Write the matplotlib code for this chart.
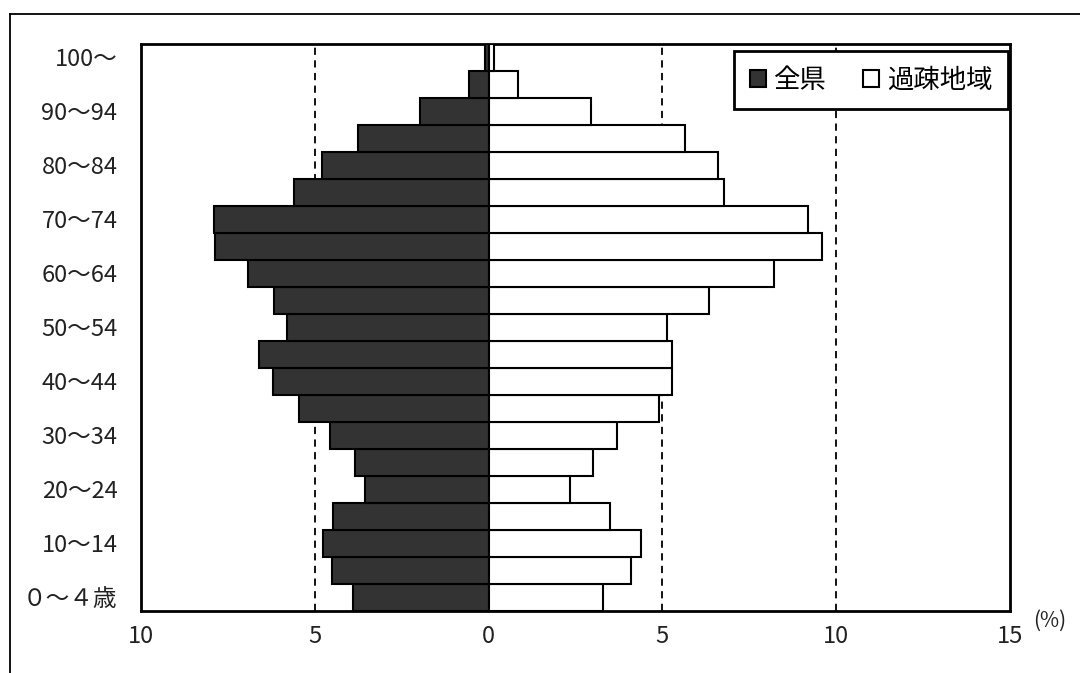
import numpy as np
import matplotlib.pyplot as plt
from matplotlib.patches import Patch
from matplotlib.lines import Line2D

plt.rcParams['font.family'] = ['Noto Sans CJK JP', 'DejaVu Sans']

# age groups, bottom to top
ages = ["０～４歳", "5～9", "10～14", "15～19", "20～24", "25～29", "30～34",
        "35～39", "40～44", "45～49", "50～54", "55～59", "60～64", "65～69",
        "70～74", "75～79", "80～84", "85～89", "90～94", "95～99", "100～"]

# share of population (%)
zenken = [3.9, 4.5, 4.76, 4.47, 3.56, 3.84, 4.56, 5.46, 6.2, 6.6, 5.8,
          6.17, 6.93, 7.86, 7.9, 5.6, 4.8, 3.75, 1.96, 0.56, 0.1]
kaso = [3.3, 4.09, 4.39, 3.5, 2.35, 3.0, 3.68, 4.91, 5.28, 5.28, 5.13,
        6.35, 8.22, 9.6, 9.19, 6.78, 6.59, 5.65, 2.95, 0.86, 0.15]

xticks = [-10, -5, 0, 5, 10, 15]
xticklabels = ["10", "5", "0", "5", "10", "15"]

fig = plt.figure(figsize=(10.8, 6.73), dpi=100)
ax = fig.add_axes([141 / 1080, 1 - 611 / 673, 869 / 1080, 567 / 673])

y = np.arange(len(ages))
ax.barh(y, -np.array(zenken), height=1.0, color="#333333", edgecolor="black",
        linewidth=1.5, zorder=3)
ax.barh(y, kaso, height=1.0, color="white", edgecolor="black",
        linewidth=1.5, zorder=3)

for gx in [-5, 5, 10]:
    ax.axvline(gx, color="black", linestyle=(0, (4, 3)), linewidth=1.3, zorder=1)

ax.set_xlim(-10, 15)
ax.set_ylim(-0.5, len(ages) - 0.5)
ax.set_xticks(xticks)
ax.set_xticklabels(xticklabels)
ax.set_yticks(y[::2])
ax.set_yticklabels(ages[::2])
ax.tick_params(axis="both", length=0, labelsize=17, colors="#222222")
ax.tick_params(axis="y", pad=17)
ax.tick_params(axis="x", pad=10)
for s in ax.spines.values():
    s.set_linewidth(2)

fig.text(1050 / 1080, 1 - 621 / 673, "(%)", fontsize=15, ha="center",
         va="center", color="#222222")

handles = [Patch(facecolor="#333333", edgecolor="black", linewidth=1.5),
           Patch(facecolor="white", edgecolor="black", linewidth=1.5)]
leg = ax.legend(handles, ["全県", "過疎地域"], ncol=2, loc="upper right",
                bbox_to_anchor=(0.998, 0.988), borderaxespad=0, fontsize=19,
                handlelength=0.6, handleheight=0.6, handletextpad=0.3,
                columnspacing=1.4, fancybox=False, framealpha=1,
                borderpad=0.6)
leg.get_frame().set_edgecolor("black")
leg.get_frame().set_linewidth(2)
leg.set_zorder(5)

# outer frame lines
fig.add_artist(Line2D([9.5 / 1080, 9.5 / 1080], [0, 1 - 13.5 / 673],
                      color="black", linewidth=1.3))
fig.add_artist(Line2D([9.5 / 1080, 1], [1 - 13.5 / 673, 1 - 13.5 / 673],
                      color="black", linewidth=1.3))

fig.savefig("out.png", dpi=100)
